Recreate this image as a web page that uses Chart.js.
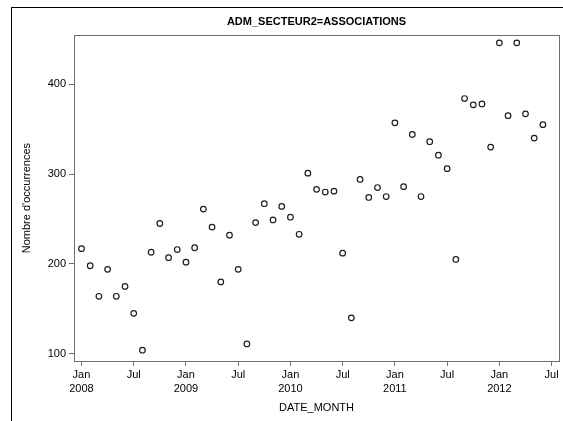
<!DOCTYPE html>
<html lang="fr">

<head>
    <meta charset="UTF-8">
    <title>ADM_SECTEUR2=ASSOCIATIONS</title>
    <script src="https://cdn.jsdelivr.net/npm/chart.js@4"></script>
    <style>
        body {
            margin: 0;
            background: #fff;
        }

        #wrap {
            position: relative;
            width: 563px;
            height: 421px;
        }

        /* cadre du graphique (coin haut-gauche visible) */
        #frame {
            position: absolute;
            left: 11px;
            top: 7px;
            right: 0;
            bottom: 0;
            border-left: 1px solid #000;
            border-top: 1px solid #000;
            pointer-events: none;
        }
    </style>
</head>

<body>
    <div id="wrap">
        <canvas id="occChart" width="563" height="421"></canvas>
        <div id="frame"></div>
    </div>

    <script>
        // mois (DATE_MONTH)
        const months = [
            '2008-01', '2008-02', '2008-03', '2008-04', '2008-05', '2008-06',
            '2008-07', '2008-08', '2008-09', '2008-10', '2008-11', '2008-12',
            '2009-01', '2009-02', '2009-03', '2009-04', '2009-05', '2009-06',
            '2009-07', '2009-08', '2009-09', '2009-10', '2009-11', '2009-12',
            '2010-01', '2010-02', '2010-03', '2010-04', '2010-05', '2010-06',
            '2010-07', '2010-08', '2010-09', '2010-10', '2010-11', '2010-12',
            '2011-01', '2011-02', '2011-03', '2011-04', '2011-05', '2011-06',
            '2011-07', '2011-08', '2011-09', '2011-10', '2011-11', '2011-12',
            '2012-01', '2012-02', '2012-03', '2012-04', '2012-05', '2012-06'
        ];

        // nombre d'occurrences par mois
        const counts = [
            217, 198, 164, 194, 164, 175, 145, 104, 213, 245, 207, 216,
            202, 218, 261, 241, 180, 232, 194, 111, 246, 267, 249, 264,
            252, 233, 301, 283, 280, 281, 212, 140, 294, 274, 285, 275,
            357, 286, 344, 275, 336, 321, 306, 205, 384, 377, 378, 330,
            446, 365, 446, 367, 340, 355
        ];

        const xTickMonths = ['2008-01', '2008-07', '2009-01', '2009-07', '2010-01', '2010-07',
            '2011-01', '2011-07', '2012-01', '2012-07'];
        const xTickLabels = [['Jan', '2008'], 'Jul', ['Jan', '2009'], 'Jul', ['Jan', '2010'], 'Jul',
            ['Jan', '2011'], 'Jul', ['Jan', '2012'], 'Jul'];
        const yTicks = [100, 200, 300, 400];

        // index du mois depuis janvier 2008
        function monthIndex(m) {
            const [y, mo] = m.split('-').map(Number);
            return (y - 2008) * 12 + (mo - 1);
        }

        const points = months.map((m, i) => ({ x: monthIndex(m), y: counts[i] }));
        const xTickValues = xTickMonths.map(monthIndex);

        const FONT = "'Liberation Sans', Arial, sans-serif";
        const AXIS_COLOR = '#6e6e6e';

        // contour de la zone de tracé
        const plotBox = {
            id: 'plotBox',
            afterDraw(chart) {
                const { ctx, chartArea: a } = chart;
                ctx.save();
                ctx.strokeStyle = AXIS_COLOR;
                ctx.lineWidth = 1;
                ctx.strokeRect(Math.round(a.left) + 0.5, Math.round(a.top) + 0.5,
                    Math.round(a.right - a.left), Math.round(a.bottom - a.top));
                ctx.restore();
            }
        };

        const ctx = document.getElementById('occChart').getContext('2d');
        new Chart(ctx, {
            type: 'scatter',
            data: {
                datasets: [{
                    label: "Nombre d'occurrences",
                    data: points,
                    pointStyle: 'circle',
                    pointRadius: 2.8,
                    pointHoverRadius: 2.8,
                    pointBorderWidth: 1.2,
                    pointBorderColor: '#1e1e1e',
                    pointBackgroundColor: 'rgba(255,255,255,0)'
                }]
            },
            options: {
                responsive: false,
                animation: false,
                layout: {
                    padding: { left: 0, right: 4, top: 0, bottom: 0 }
                },
                plugins: {
                    legend: { display: false },
                    tooltip: { enabled: false },
                    title: {
                        display: true,
                        text: 'ADM_SECTEUR2=ASSOCIATIONS',
                        fullSize: false,
                        color: '#000',
                        font: { family: FONT, size: 11, weight: 'bold', lineHeight: 1.2 },
                        padding: { top: 15, bottom: 7 }
                    }
                },
                scales: {
                    x: {
                        type: 'linear',
                        min: -0.86,
                        max: 54.85,
                        afterBuildTicks: scale => {
                            scale.ticks = xTickValues.map(v => ({ value: v }));
                        },
                        afterFit: scale => { scale.height = 60; },
                        ticks: {
                            autoSkip: false,
                            maxRotation: 0,
                            padding: 2,
                            color: '#000',
                            font: { family: FONT, size: 11, lineHeight: 1.3 },
                            callback: (value) => xTickLabels[xTickValues.indexOf(value)]
                        },
                        grid: {
                            drawOnChartArea: false,
                            drawTicks: true,
                            tickLength: 5,
                            color: AXIS_COLOR
                        },
                        border: { color: AXIS_COLOR },
                        title: {
                            display: true,
                            text: 'DATE_MONTH',
                            color: '#000',
                            font: { family: FONT, size: 11, lineHeight: 1.2 },
                            padding: { top: 0, bottom: 6 }
                        }
                    },
                    y: {
                        type: 'linear',
                        min: 92,
                        max: 454.5,
                        afterBuildTicks: scale => {
                            scale.ticks = yTicks.map(v => ({ value: v }));
                        },
                        afterFit: scale => { scale.width = 74; },
                        ticks: {
                            padding: 3,
                            color: '#000',
                            font: { family: FONT, size: 11 }
                        },
                        grid: {
                            drawOnChartArea: false,
                            drawTicks: true,
                            tickLength: 5,
                            color: AXIS_COLOR
                        },
                        border: { color: AXIS_COLOR },
                        title: {
                            display: true,
                            text: "Nombre d'occurrences",
                            color: '#000',
                            font: { family: FONT, size: 11, lineHeight: 1.2 },
                            padding: { top: 20, bottom: 0 }
                        }
                    }
                }
            },
            plugins: [plotBox]
        });
    </script>
</body>

</html>
